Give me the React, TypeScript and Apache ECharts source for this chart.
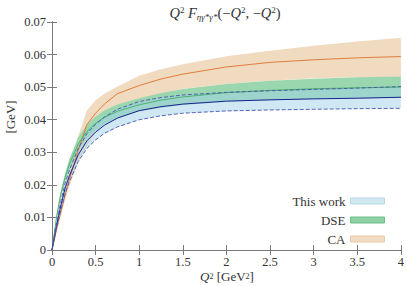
import React, { useEffect, useRef } from "react";
import * as echarts from "echarts";

// Q^2 grid [GeV^2]
const q2 = [0, 0.05, 0.1, 0.15, 0.2, 0.3, 0.4, 0.5, 0.6, 0.75, 1.0, 1.25, 1.5, 2.0, 2.5, 3.0, 3.5, 4.0];

// This work
const twCentral = [0, 0.0072, 0.0135, 0.019, 0.0228, 0.0292, 0.0335, 0.0362, 0.0383, 0.0405, 0.0428, 0.044, 0.0448, 0.0457, 0.0461, 0.0464, 0.0466, 0.0469];
const twUpper = [0, 0.0079, 0.0148, 0.0205, 0.0245, 0.0312, 0.0357, 0.0386, 0.0408, 0.0432, 0.0456, 0.0468, 0.0476, 0.0484, 0.0489, 0.0493, 0.0497, 0.0502];
const twLower = [0, 0.0065, 0.0122, 0.0173, 0.021, 0.0271, 0.0312, 0.0338, 0.0358, 0.0378, 0.04, 0.0412, 0.042, 0.0427, 0.043, 0.0432, 0.0434, 0.0435];

// DSE
const dseUpper = [0, 0.0105, 0.018, 0.0235, 0.028, 0.0345, 0.0385, 0.041, 0.0428, 0.0447, 0.0466, 0.0482, 0.0494, 0.051, 0.052, 0.0526, 0.053, 0.0533];
const dseCentral = [0, 0.0098, 0.017, 0.0222, 0.0264, 0.0325, 0.0364, 0.0389, 0.0407, 0.0426, 0.0446, 0.046, 0.047, 0.0483, 0.049, 0.0495, 0.0498, 0.05];
const dseLower = [0, 0.0092, 0.016, 0.021, 0.0248, 0.0305, 0.0343, 0.0368, 0.0386, 0.0404, 0.0425, 0.0437, 0.0445, 0.0455, 0.046, 0.0463, 0.0465, 0.0467];

// CA
const caUpper = [0, 0.007, 0.0135, 0.02, 0.0255, 0.035, 0.0428, 0.046, 0.048, 0.0502, 0.0535, 0.0555, 0.057, 0.0595, 0.0612, 0.0627, 0.064, 0.0652];
const caCentral = [0, 0.006, 0.0115, 0.0168, 0.0218, 0.0305, 0.0385, 0.042, 0.0448, 0.048, 0.0505, 0.0525, 0.054, 0.0562, 0.0576, 0.0584, 0.059, 0.0594];
const caLower = [0, 0.0055, 0.0105, 0.0152, 0.0195, 0.027, 0.032, 0.036, 0.039, 0.042, 0.0455, 0.048, 0.0495, 0.051, 0.052, 0.0527, 0.053, 0.0532];

const xTicks = [0, 0.5, 1, 1.5, 2, 2.5, 3, 3.5, 4];
const yTicks = [0, 0.01, 0.02, 0.03, 0.04, 0.05, 0.06, 0.07];

const FONT = "'Liberation Serif', 'DejaVu Serif', serif";
const GRAY = "#7a7a7a";
const INK = "#333333";

const pairs = (ys: number[]) => q2.map((x, i) => [x, ys[i]]);

function band(name: string, lower: number[], upper: number[], color: string, z: number) {
  return {
    name,
    type: "custom",
    data: [[q2[0], lower[0]]],
    silent: true,
    clip: true,
    z,
    renderItem: (_params: any, api: any) => {
      const pts: number[][] = [];
      for (let i = 0; i < q2.length; i++) pts.push(api.coord([q2[i], upper[i]]));
      for (let i = q2.length - 1; i >= 0; i--) pts.push(api.coord([q2[i], lower[i]]));
      return {
        type: "polygon",
        shape: { points: pts },
        style: { fill: color },
      };
    },
  };
}

function line(ys: number[], color: string, width: number, type: any, z: number) {
  return {
    type: "line",
    data: pairs(ys),
    symbol: "none",
    smooth: false,
    lineStyle: { color, width, type },
    silent: true,
    z,
  };
}

export default function App() {
  const ref = useRef<HTMLDivElement>(null);
  useEffect(() => {
    if (!ref.current) return;
    const chart = echarts.init(ref.current, undefined, { renderer: "svg" });
    const axisCommon = {
      axisLine: { show: true, lineStyle: { color: GRAY, width: 1 } },
      axisTick: { show: true, inside: true, length: 5, lineStyle: { color: GRAY } },
      splitLine: { show: false },
    };
    chart.setOption({
      animation: false,
      backgroundColor: "#ffffff",
      grid: { left: 52, right: 3, top: 22, bottom: 36 },
      xAxis: [
        {
          type: "value",
          min: xTicks[0],
          max: xTicks[xTicks.length - 1],
          interval: 0.5,
          ...axisCommon,
          axisLabel: {
            color: INK,
            fontFamily: FONT,
            fontSize: 12.5,
            margin: 5,
            formatter: (v: number) => String(v),
          },
        },
        {
          type: "value",
          position: "top",
          min: xTicks[0],
          max: xTicks[xTicks.length - 1],
          interval: 0.5,
          ...axisCommon,
          axisLabel: { show: false },
        },
      ],
      yAxis: [
        {
          type: "value",
          min: yTicks[0],
          max: yTicks[yTicks.length - 1],
          interval: 0.01,
          ...axisCommon,
          axisLabel: {
            color: INK,
            fontFamily: FONT,
            fontSize: 12.5,
            margin: 6,
            formatter: (v: number) => (v === 0 ? "0" : v.toFixed(2)),
          },
        },
        {
          type: "value",
          position: "right",
          min: yTicks[0],
          max: yTicks[yTicks.length - 1],
          interval: 0.01,
          ...axisCommon,
          axisLabel: { show: false },
        },
      ],
      legend: {
        orient: "vertical",
        right: 17,
        top: 189,
        align: "right",
        itemWidth: 34,
        itemHeight: 6,
        itemGap: 5,
        selectedMode: false,
        textStyle: { fontFamily: FONT, fontSize: 13, color: INK, lineHeight: 14 },
        data: [
          { name: "This work", icon: "rect", itemStyle: { color: "#d3e9f2", borderColor: "#b5d8e6", borderWidth: 1 } },
          { name: "DSE", icon: "rect", itemStyle: { color: "#8fd0a4", borderColor: "#6cbf87", borderWidth: 1 } },
          { name: "CA", icon: "rect", itemStyle: { color: "#f0dcc3", borderColor: "#e8cba8", borderWidth: 1 } },
        ],
      },
      graphic: [
        {
          type: "text",
          x: 225,
          y: 1,
          style: {
            text: "{i|Q}{sup|2} {i|F}{sub|ηγ*γ*}(−{i|Q}{sup|2}, −{i|Q}{sup|2})",
            fill: INK,
            fontFamily: FONT,
            fontSize: 14.5,
            align: "center",
            rich: {
              i: { fill: INK, fontStyle: "italic", fontFamily: FONT, fontSize: 14.5, height: 17, verticalAlign: "middle" },
              sup: { fill: INK, fontFamily: FONT, fontSize: 9, height: 17, verticalAlign: "top" },
              sub: { fill: INK, fontStyle: "italic", fontFamily: FONT, fontSize: 9, height: 17, verticalAlign: "bottom", padding: [7, 0, 0, 0] },
            },
          },
        },
        {
          type: "text",
          x: 227,
          y: 268,
          style: {
            text: "{i|Q}{sup|2} [GeV{sup|2}]",
            fill: INK,
            fontFamily: FONT,
            fontSize: 13,
            align: "center",
            rich: {
              i: { fill: INK, fontStyle: "italic", fontFamily: FONT, fontSize: 13, height: 16, verticalAlign: "middle" },
              sup: { fill: INK, fontFamily: FONT, fontSize: 8, height: 16, verticalAlign: "top" },
            },
          },
        },
        {
          type: "text",
          x: 10,
          y: 117,
          rotation: Math.PI / 2,
          style: {
            text: "[GeV]",
            fill: INK,
            fontFamily: FONT,
            fontSize: 13,
            align: "center",
            verticalAlign: "middle",
          },
        },
      ],
      series: [
        band("CA", caLower, caUpper, "#f0dbc1", 1),
        band("DSE", dseLower, dseUpper, "#9ad6ae", 2),
        band("This work", twLower, twUpper, "rgba(160,210,232,0.5)", 3),
        line(caCentral, "#e0702c", 0.9, "solid", 5),
        line(dseCentral, "#3aa860", 0.8, "solid", 5),
        line(twCentral, "#1a2391", 1, "solid", 6),
        line(twUpper, "#4655b0", 0.9, [4, 2], 6),
        line(twLower, "#4655b0", 0.9, [4, 2], 6),
      ],
    });
    return () => chart.dispose();
  }, []);
  return <div ref={ref} style={{ width: 407, height: 286, position: "absolute", left: 0, top: 0 }} />;
}
